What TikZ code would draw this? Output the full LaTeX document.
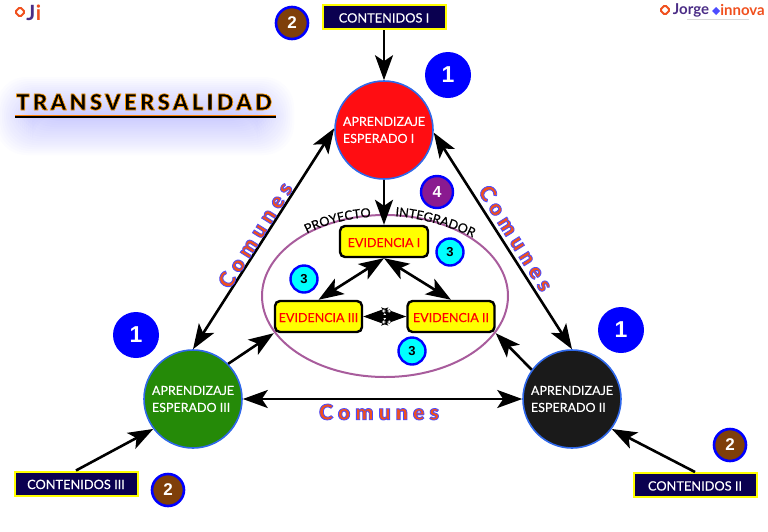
\documentclass[tikz,border=0pt]{standalone}
\usepackage{fontspec}
\usetikzlibrary{arrows.meta,decorations.text,shapes.geometric}
\setmainfont{Lato}
\newfontfamily\labfont{Lato}[FakeBold=0.3]
\newfontfamily\boldnum{Liberation Sans}[BoldFont={* Bold}]
\newfontfamily\comfont{Lato Black}[LetterSpace=23]
\newfontfamily\titlefont{Lato Black}[LetterSpace=15]
\definecolor{navy}{HTML}{0A0050}
\definecolor{edgeblue}{HTML}{2F68EA}
\definecolor{bright}{HTML}{0000FF}
\definecolor{brownb}{HTML}{7F3F0A}
\definecolor{purpleb}{HTML}{8A1A90}
\definecolor{logoorange}{HTML}{F0501E}
\definecolor{logopurple}{HTML}{4B2D86}
\definecolor{mauve}{HTML}{A85C9C}
\definecolor{cyanb}{HTML}{00FFFF}
\definecolor{yellowb}{HTML}{FFFF00}
\definecolor{redb}{HTML}{FF0D12}
\definecolor{greenb}{HTML}{258A08}
\definecolor{blackb}{HTML}{1A1A1A}
% stroked text: colour of the stroke, its width, text
\newcommand{\halo}[3]{\special{pdf:code 2 Tr #2 w #1 RG}#3\special{pdf:code 0 Tr 1 w}}
\tikzset{
  apren/.style={circle,draw=edgeblue,line width=1.6pt,minimum size=98pt,inner sep=0pt,align=left,text=white,font=\labfont\fontsize{12.5}{17}\selectfont,execute at begin node=\rule{0pt}{13pt}},
  cont/.style={draw=yellowb,line width=2pt,fill=navy,text=white,minimum width=123pt,minimum height=24pt,inner sep=0pt,text height=11pt,text depth=0pt,font=\labfont\fontsize{12.8}{15}\selectfont},
  evid/.style={draw=black,line width=2.4pt,fill=yellowb,text=red,rounded corners=5pt,minimum height=31pt,inner sep=0pt,text height=11pt,text depth=0pt,font=\labfont\fontsize{12.5}{15}\selectfont},
  bone/.style={circle,fill=bright,text=white,minimum size=46pt,inner sep=0pt,font=\boldnum\bfseries\fontsize{23}{23}\selectfont},
  btwo/.style={circle,draw=bright,line width=2.6pt,fill=brownb,text=white,minimum size=32pt,inner sep=0pt,font=\boldnum\bfseries\fontsize{17}{17}\selectfont},
  bthree/.style={circle,draw=bright,line width=2.4pt,fill=cyanb,text=black,minimum size=27pt,inner sep=0pt,font=\boldnum\bfseries\fontsize{13}{13}\selectfont},
  bfour/.style={circle,draw=bright,line width=2.4pt,fill=purpleb,text=white,minimum size=32pt,inner sep=0pt,font=\boldnum\bfseries\fontsize{16}{16}\selectfont},
  link/.style={line width=2.6pt,draw=black,-{Stealth[length=25pt,width=18pt,inset=6pt]}},
  blink/.style={line width=2.6pt,draw=black,{Stealth[length=25pt,width=18pt,inset=6pt]}-{Stealth[length=25pt,width=18pt,inset=6pt]}},
  comun/.style={inner sep=0pt,font=\comfont\fontsize{21.5}{22}\selectfont,text=logoorange},
}
\newcommand{\comtxt}{\halo{0.3 0.3 1}{0.8}{Comunes}}
\begin{document}
\begin{tikzpicture}[x=1pt,y=-1pt]
  \useasboundingbox (0,0) rectangle (768,531);
  % glow under the title
  \foreach \r in {1,3,...,37}
    \fill[blue!60,opacity=0.018,rounded corners=30pt] (\r-5,76+\r) rectangle (295-\r,156-\r);
  % title
  \node[inner sep=0pt,text=black,font=\titlefont\fontsize{22}{22}\selectfont] (title) at (144,102) {\halo{1 0.6 0}{0.7}{TRANSVERSALIDAD}};
  \draw[orange,line width=3.4pt] (15,116.5) -- (276,116.5);
  \draw[black,line width=2pt] (15,116.5) -- (276,116.5);
  % logos
  \draw[logoorange,line width=2pt,rounded corners=1.5pt] (15,12) -- (20,7) -- (25,12) -- (20,17) -- cycle;
  \node[inner sep=0pt,text=logopurple,font=\bfseries\fontsize{21}{21}\selectfont] (logoj) at (31,13) {J};
  \node[inner sep=0pt,text=logoorange,font=\bfseries\fontsize{21}{21}\selectfont] (logoi) at (38.5,13) {i};
  \draw[logoorange,line width=2pt,rounded corners=1.5pt] (660,10) -- (665,5) -- (670,10) -- (665,15) -- cycle;
  \node[inner sep=0pt,text=logopurple,font=\bfseries\fontsize{15}{15}\selectfont] (logojorge) at (691,10) {Jorge};
  \fill[blue!70] (716,7) -- (720,11) -- (716,15) -- (712,11) -- cycle;
  \node[inner sep=0pt,text=logoorange,font=\bfseries\fontsize{15}{15}\selectfont] (logoinnova) at (742.5,10) {innova};
  \draw[black!15,line width=0.6pt] (687,19.5) -- (749,19.5);
  % project ellipse
  \node[draw=mauve,line width=2pt,ellipse,minimum width=246pt,minimum height=162pt,inner sep=0pt] (proy) at (385,296) {};
  \path[decorate,decoration={text along path,text align=center,text={|\labfont\fontsize{12.6}{13}\selectfont|PROYECTO}}]
    (306,234) .. controls (325,224) and (350,218) .. (372,217);
  \path[decorate,decoration={text along path,text align=center,text={|\labfont\fontsize{12.6}{13}\selectfont|INTEGRADOR}}]
    (394,216) .. controls (420,218) and (450,226) .. (474,238);
  % aprendizajes
  \node[apren,fill=redb] (A1) at (384,130) {APRENDIZAJE\\ESPERADO I};
  \node[apren,fill=blackb] (A2) at (572,399) {APRENDIZAJE\\ESPERADO II};
  \node[apren,fill=greenb] (A3) at (193,399) {APRENDIZAJE\\ESPERADO III};
  % contenidos
  \node[cont] (C1) at (384,17) {CONTENIDOS I};
  \node[cont] (C2) at (695,485) {CONTENIDOS II};
  \node[cont] (C3) at (76,483.5) {CONTENIDOS III};
  % evidencias
  \node[evid,minimum width=88pt] (E1) at (384,241.5) {EVIDENCIA I};
  \node[evid,minimum width=87pt] (E2) at (451,316.5) {EVIDENCIA II};
  \node[evid,minimum width=87pt] (E3) at (318.5,316.5) {EVIDENCIA III};
  % badges
  \node[bone] (n1a) at (448,75) {1};
  \node[bone] (n1b) at (136,335) {1};
  \node[bone] (n1c) at (621,330) {1};
  \node[btwo] (n2a) at (292,23) {2};
  \node[btwo] (n2b) at (168,490) {2};
  \node[btwo] (n2c) at (730,445) {2};
  \node[bthree] (n3a) at (450,252) {3};
  \node[bthree] (n3b) at (304,279) {3};
  \node[bthree] (n3c) at (412,351) {3};
  \node[bfour] (n4) at (437,192) {4};
  % contents to outcomes
  \draw[link] (C1) -- (A1);
  \draw[link] (C2.north) -- (A2.-37);
  \draw[link] (C3.north) -- (A3.217);
  % outcomes among themselves
  \draw[blink] (A3.north) -- (A1.178);
  \draw[blink] (A1.-3) -- (A2.north);
  \draw[blink] (A3) -- (A2);
  % outcomes to evidence
  \draw[link] (A1) -- (E1);
  \draw[link] (A2.144) -- (E2.south east);
  \draw[link] (A3.45) -- (E3.south west);
  % evidence
  \draw[blink] (E1.south) -- (E3.north);
  \draw[blink] (E1.south) -- (E2.north);
  \draw[blink] (E3) -- (E2);
  \foreach \x in {383.7,389.3} \foreach \y in {311,322}
    \draw[black!60,fill=white,line width=0.5pt] (\x,\y) circle (1.7);
  % comunes
  \node[comun,rotate=58] (com1) at (255,235) {\comtxt};
  \node[comun,rotate=-58] (com2) at (516,238) {\comtxt};
  \node[comun] (com3) at (379,412) {\comtxt};
\end{tikzpicture}
\end{document}
